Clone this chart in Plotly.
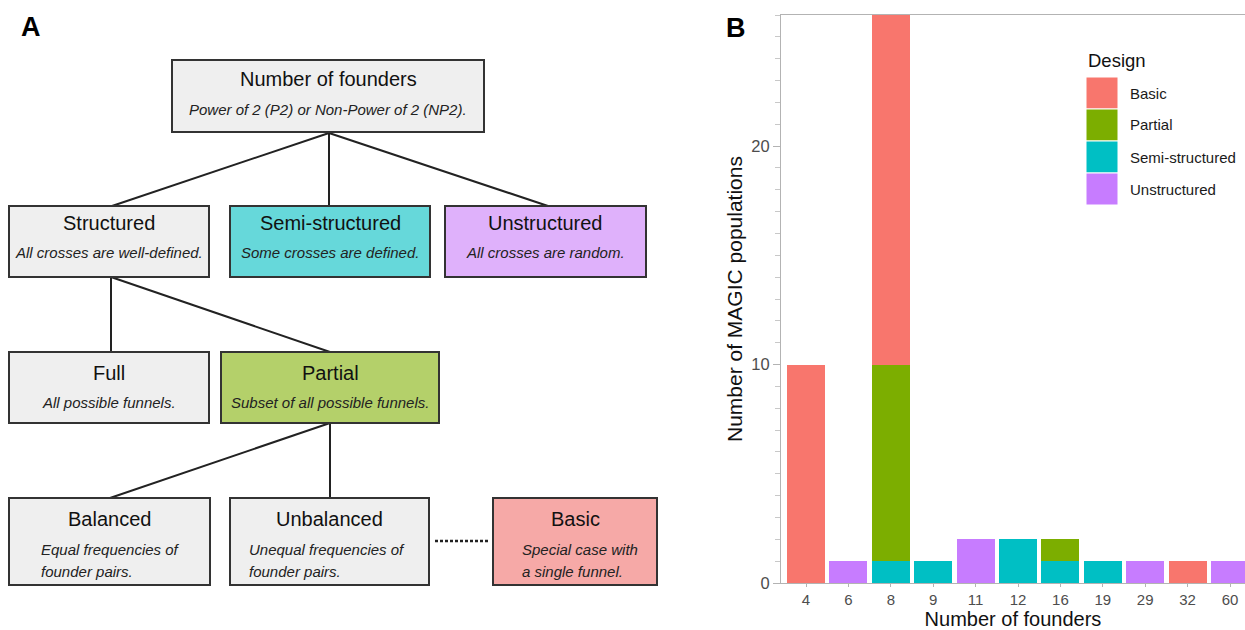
import plotly.graph_objects as go

# ---------------- data (panel B) ----------------
founders = ["4", "6", "8", "9", "11", "12", "16", "19", "29", "32", "60"]
basic = [10, 0, 16, 0, 0, 0, 0, 0, 0, 1, 0]
partial = [0, 0, 9, 0, 0, 0, 1, 0, 0, 0, 0]
semi_structured = [0, 0, 1, 1, 0, 2, 1, 1, 0, 0, 0]
unstructured = [0, 1, 0, 0, 2, 0, 0, 0, 1, 0, 1]
design_names = ["Basic", "Partial", "Semi-structured", "Unstructured"]
design_colors = ["#F8766D", "#7CAE00", "#00BFC4", "#C77CFF"]
y_ticks = [0, 10, 20]

W, H = 1245, 630
FONT = "Liberation Sans, Arial, sans-serif"


def px(x):
    return x / W


def py(y):
    return 1 - y / H


fig = go.Figure()

# stacked bars: bottom to top = Unstructured, Semi-structured, Partial, Basic
series = {
    "Basic": basic,
    "Partial": partial,
    "Semi-structured": semi_structured,
    "Unstructured": unstructured,
}
for name in ["Unstructured", "Semi-structured", "Partial", "Basic"]:
    col = design_colors[design_names.index(name)]
    fig.add_trace(go.Bar(
        x=founders, y=series[name], name=name,
        marker=dict(color=col, line=dict(width=0)),
        showlegend=False, hoverinfo="x+y+name",
    ))

x_left, x_right = 781, 1245
first_center, step = 806, 42.4
y_bottom, y_top = 583, 15

fig.update_layout(
    width=W, height=H,
    margin=dict(l=0, r=0, t=0, b=0),
    paper_bgcolor="white", plot_bgcolor="white",
    barmode="stack", bargap=0.1,
    font=dict(family=FONT, color="#1a1a1a"),
    xaxis=dict(
        domain=[px(x_left), 1],
        type="category",
        categoryorder="array", categoryarray=founders,
        range=[-(first_center - x_left) / step, (x_right - first_center) / step],
        showline=True, linecolor="#b3b3b3", linewidth=1.2, mirror=True,
        ticks="outside", ticklen=3, tickcolor="#b3b3b3", tickwidth=1,
        tickfont=dict(size=15, color="#4d4d4d"),
        showgrid=False, zeroline=False, automargin=False,
        title=dict(text="Number of founders", font=dict(size=20, color="#111"), standoff=2),
    ),
    yaxis=dict(
        domain=[py(y_bottom), py(y_top)],
        range=[0, 26],
        tickvals=y_ticks,
        showline=True, linecolor="#b3b3b3", linewidth=1.2,
        ticks="outside", ticklen=7, tickcolor="#b3b3b3", tickwidth=1,
        minor=dict(dtick=1, ticks="outside", ticklen=5, tickcolor="#c8c8c8", tickwidth=1, showgrid=False),
        tickfont=dict(size=16.5, color="#4d4d4d"),
        showgrid=False, zeroline=False, automargin=False,
        title=dict(text="Number of MAGIC populations", font=dict(size=21, color="#111"), standoff=2),
    ),
)

shapes = []
annotations = []


def note(x, y, text, size, color, xanchor="center"):
    annotations.append(dict(xref="paper", yref="paper", x=px(x), y=py(y), text=text, showarrow=False,
                            xanchor=xanchor, yanchor="middle",
                            font=dict(size=size, color=color, family=FONT)))


# panel labels
note(31, 27, "<b>A</b>", 27, "black")
note(736, 28, "<b>B</b>", 27, "black")

# ---------------- custom legend ----------------
note(1086, 60, "Design", 18.5, "#111", "left")
key_top = 77
key_h = 32
for i, (nm, col) in enumerate(zip(design_names, design_colors)):
    y0 = key_top + i * key_h
    shapes.append(dict(type="rect", xref="paper", yref="paper",
                       x0=px(1086), x1=px(1118), y0=py(y0), y1=py(y0 + key_h),
                       fillcolor=col, line=dict(color="white", width=1)))
    note(1128, y0 + key_h / 2, nm, 15, "#1a1a1a", "left")

# ---------------- panel A: flowchart ----------------
GRAY = "#efefef"
TITLE_SIZE = 20
SUB_SIZE = 15
nodes = [
    # title, subtitle lines, x0, x1, y0, y1, fill, title_y, sub_y list, left x (None -> centered)
    ("Number of founders", ["Power of 2 (P2) or Non-Power of 2 (NP2)."], 172, 484, 60, 132, GRAY, 79, [109], None),
    ("Structured", ["All crosses are well-defined."], 9, 209, 206, 277, GRAY, 223, [252], None),
    ("Semi-structured", ["Some crosses are defined."], 230, 430, 206, 277, "#66d8da", 223, [252], None),
    ("Unstructured", ["All crosses are random."], 445, 646, 206, 277, "#dfb1fb", 223, [252], None),
    ("Full", ["All possible funnels."], 9, 209, 352, 423, GRAY, 373, [403], None),
    ("Partial", ["Subset of all possible funnels."], 221, 439, 352, 423, "#b4d06a", 373, [403], None),
    ("Balanced", ["Equal frequencies of", "founder pairs."], 9, 210, 498, 585, GRAY, 519, [549, 571], 39),
    ("Unbalanced", ["Unequal frequencies of", "founder pairs."], 230, 429, 498, 585, GRAY, 519, [549, 571], 247),
    ("Basic", ["Special case with", "a single funnel."], 493, 657, 498, 585, "#f6a9a7", 519, [549, 571], 520),
]

edges = [
    ((329, 133), (112, 206)),
    ((329, 133), (329, 206)),
    ((329, 133), (548, 206)),
    ((111, 277), (111, 352)),
    ((111, 277), (330, 352)),
    ((330, 423), (110, 498)),
    ((330, 423), (330, 498)),
]
for (a, b) in edges:
    shapes.append(dict(type="line", xref="paper", yref="paper",
                       x0=px(a[0]), y0=py(a[1]), x1=px(b[0]), y1=py(b[1]),
                       line=dict(color="#222222", width=2)))
shapes.append(dict(type="line", xref="paper", yref="paper",
                   x0=px(435), y0=py(541), x1=px(489), y1=py(541),
                   line=dict(color="#222222", width=2.5, dash="3px,2px")))

for (title, subs, x0, x1, y0, y1, fill, ty, sys_, lx) in nodes:
    shapes.append(dict(type="rect", xref="paper", yref="paper",
                       x0=px(x0), x1=px(x1), y0=py(y0), y1=py(y1),
                       fillcolor=fill, line=dict(color="#333333", width=2)))
    note((x0 + x1) / 2, ty, title, TITLE_SIZE, "#111111")
    for s, sy in zip(subs, sys_):
        if lx is None:
            note((x0 + x1) / 2, sy, "<i>" + s + "</i>", SUB_SIZE, "#222222")
        else:
            note(lx, sy, "<i>" + s + "</i>", SUB_SIZE, "#222222", "left")

fig.update_layout(shapes=shapes, annotations=annotations)

fig.write_html("out.html", config={"displayModeBar": False},
               post_script="document.body.style.margin='0';document.body.style.overflow='hidden';")
